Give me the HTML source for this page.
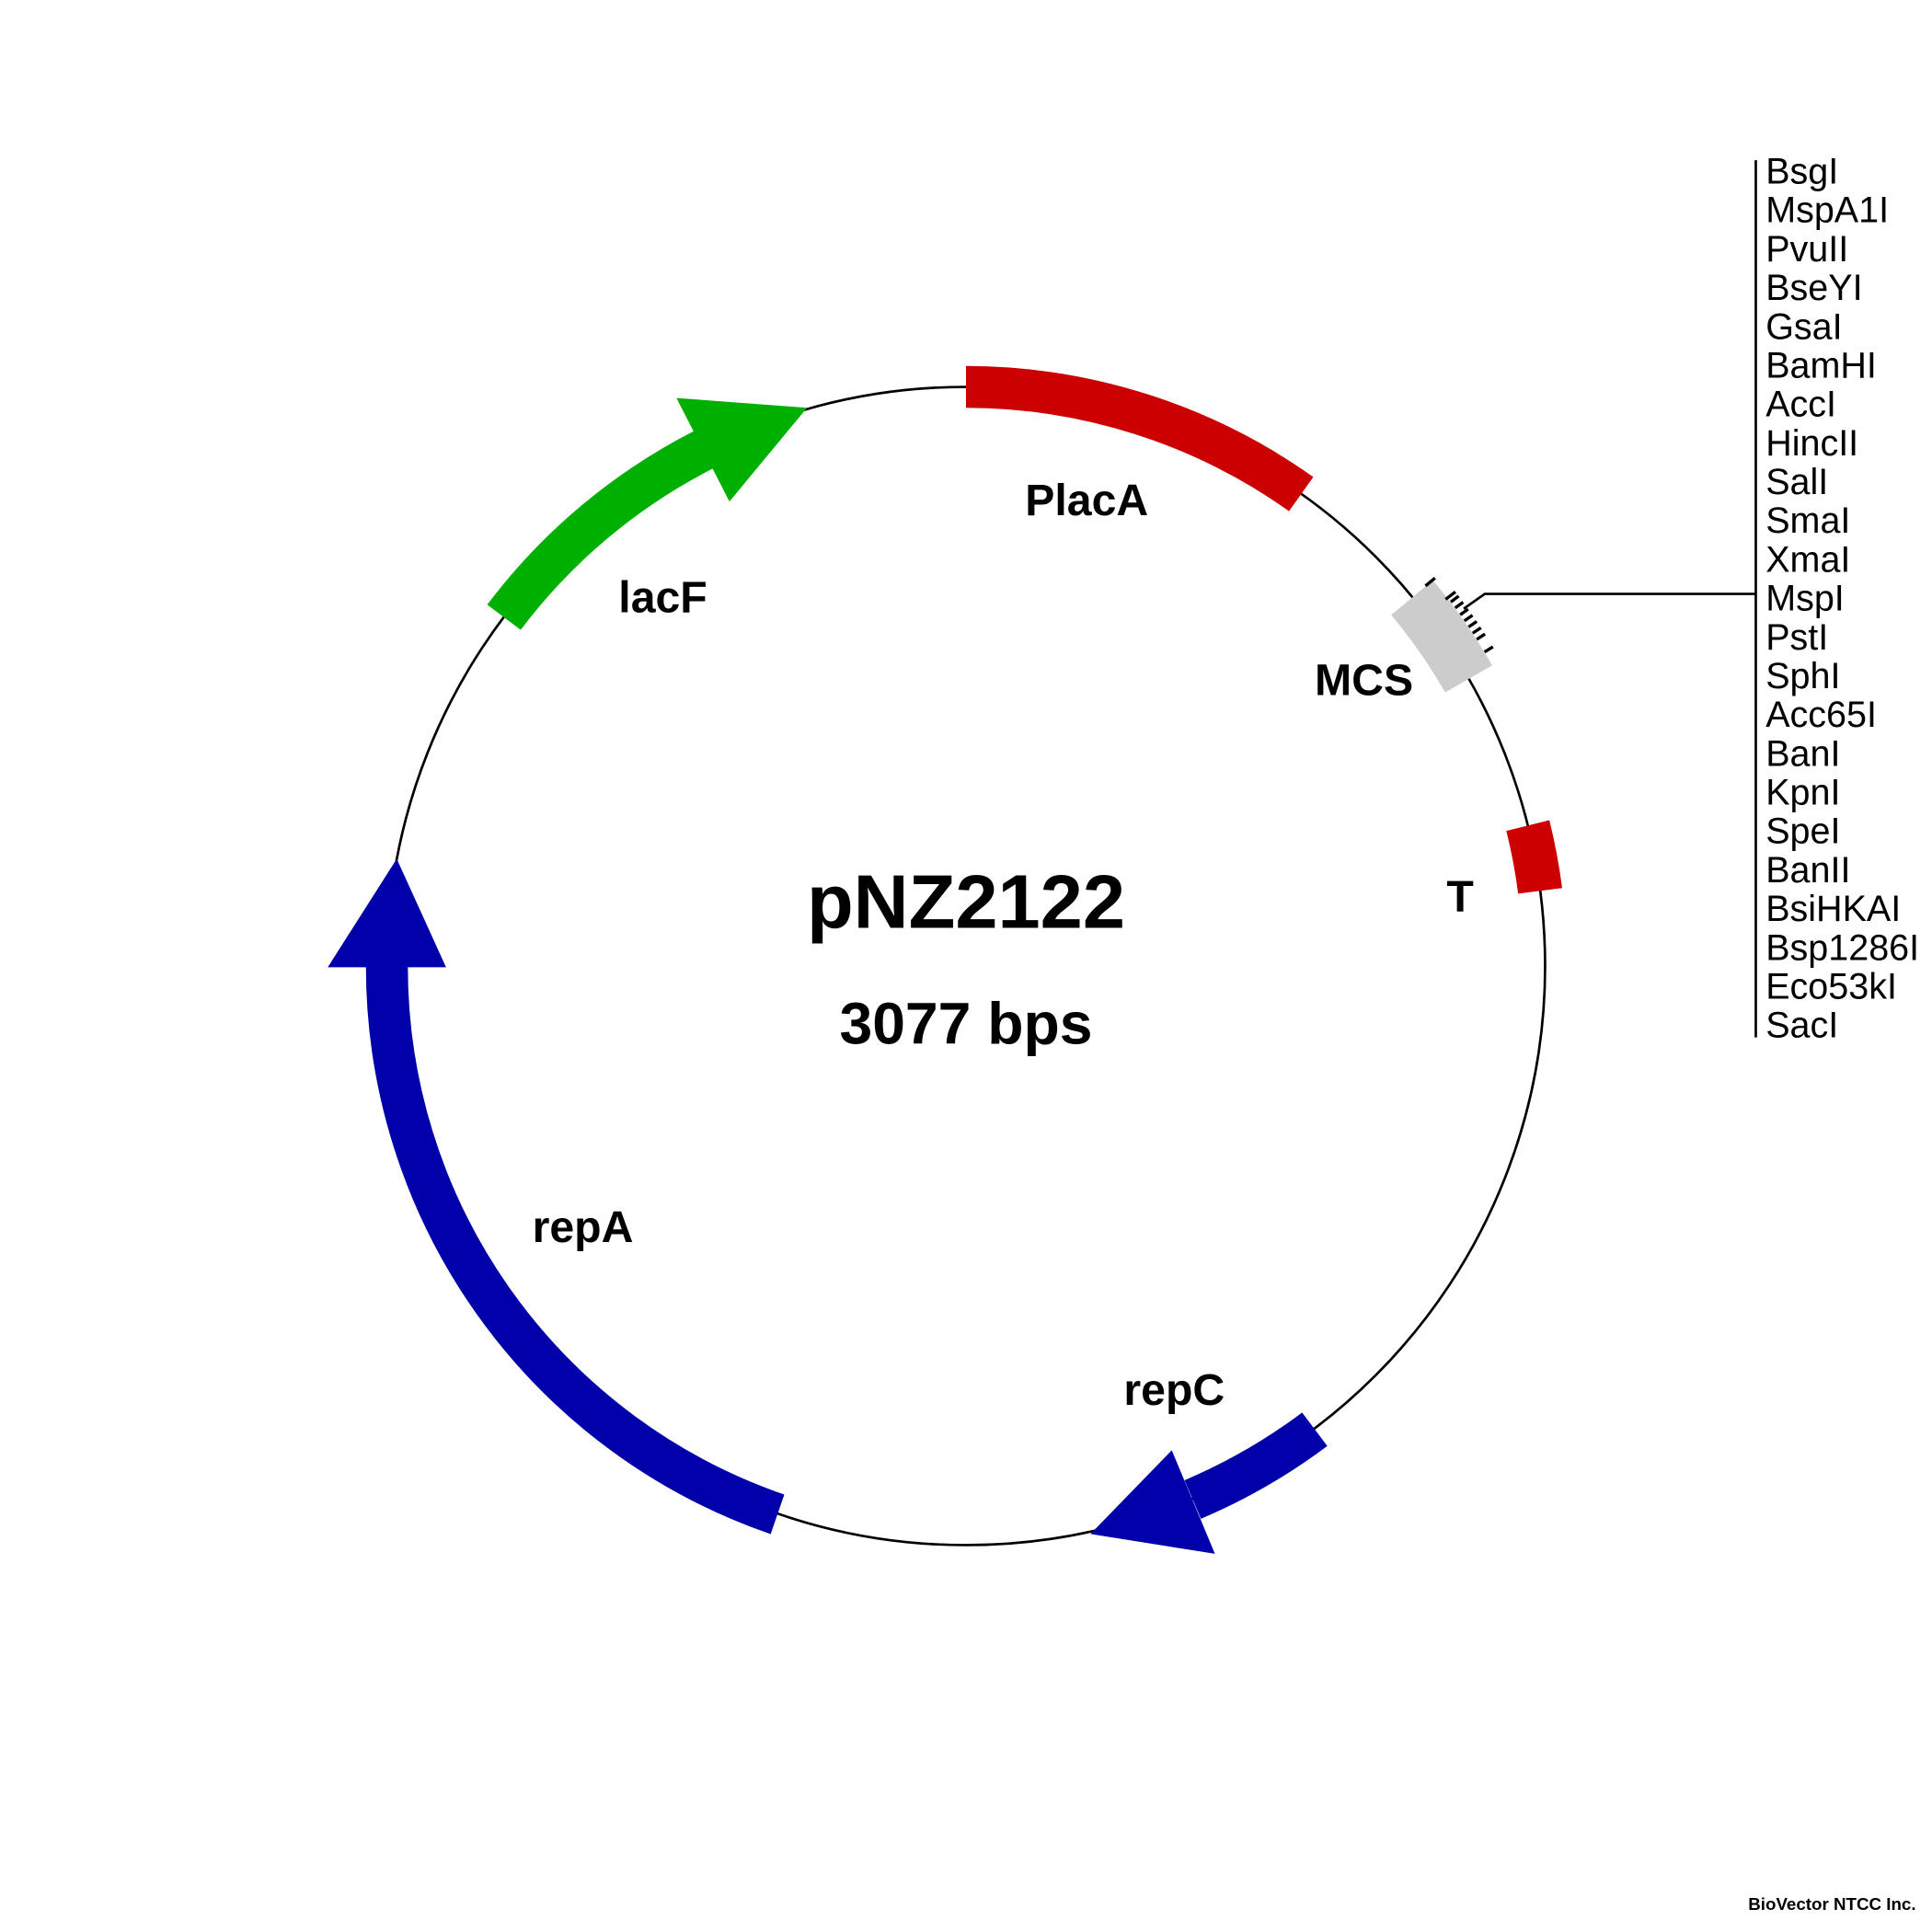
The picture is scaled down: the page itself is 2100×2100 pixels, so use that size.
<!DOCTYPE html>
<html><head><meta charset="utf-8"><style>
html,body{margin:0;padding:0;background:#fff;}
svg{display:block;}
text{font-family:"Liberation Sans",Arial,sans-serif;}
</style></head><body>
<svg width="2100" height="2100" viewBox="0 0 1568 1568" xmlns="http://www.w3.org/2000/svg">
<rect width="1568" height="1568" fill="#fff"/>
<circle cx="784" cy="784" r="470" fill="none" stroke="#000" stroke-width="2"/>
<path d="M784 314 A470 470 0 0 1 1056 401" fill="none" stroke="#cc0000" stroke-width="34"/>
<path d="M409 501 A470 470 0 0 1 571 365" fill="none" stroke="#00b000" stroke-width="34"/>
<polygon points="592,407 549,323 655,331" fill="#00b000"/>
<path d="M1146 485 A470 470 0 0 1 1192 551" fill="none" stroke="#cccccc" stroke-width="44"/>
<g stroke="#000" stroke-width="2.5">
<line x1="784" y1="290" x2="784" y2="300" transform="rotate(50.4 784 784)"/>
<line x1="784" y1="284" x2="784" y2="294" transform="rotate(52.6 784 784)"/>
<line x1="784" y1="284" x2="784" y2="292" transform="rotate(53.1 784 784)"/>
<line x1="784" y1="284" x2="784" y2="292" transform="rotate(53.8 784 784)"/>
<line x1="784" y1="284" x2="784" y2="292" transform="rotate(54.6 784 784)"/>
<line x1="784" y1="284" x2="784" y2="292" transform="rotate(55.3 784 784)"/>
<line x1="784" y1="284" x2="784" y2="292" transform="rotate(56.0 784 784)"/>
<line x1="784" y1="284" x2="784" y2="292" transform="rotate(56.7 784 784)"/>
<line x1="784" y1="284" x2="784" y2="292" transform="rotate(57.4 784 784)"/>
<line x1="784" y1="284" x2="784" y2="292" transform="rotate(58.8 784 784)"/>
</g>
<polyline points="1425,482 1205,482 1188,494" fill="none" stroke="#000" stroke-width="2"/>
<line x1="1425" y1="130" x2="1425" y2="842" stroke="#000" stroke-width="2"/>
<path d="M1240 670 A470 470 0 0 1 1250 723" fill="none" stroke="#cc0000" stroke-width="36"/>
<path d="M1067 1160 A470 470 0 0 1 968 1217" fill="none" stroke="#0000aa" stroke-width="34"/>
<polygon points="951,1177 986,1261 885,1245" fill="#0000aa"/>
<path d="M631 1229 A470 470 0 0 1 314 784" fill="none" stroke="#0000aa" stroke-width="34"/>
<polygon points="266,785 362,785 322,697" fill="#0000aa"/>
<g font-weight="bold" font-size="36" text-anchor="middle" fill="#000">
<text x="882" y="418">PlacA</text>
<text x="538" y="497">lacF</text>
<text x="1107" y="564">MCS</text>
<text x="1185" y="740">T</text>
<text x="953" y="1140">repC</text>
<text x="473" y="1008">repA</text>
<text x="784" y="753" font-size="62">pNZ2122</text>
<text x="784" y="847" font-size="48">3077 bps</text>
</g>
<g font-size="29.5" fill="#000">
<text x="1433" y="149">BsgI</text>
<text x="1433" y="180.5">MspA1I</text>
<text x="1433" y="212">PvuII</text>
<text x="1433" y="243.5">BseYI</text>
<text x="1433" y="275">GsaI</text>
<text x="1433" y="306.5">BamHI</text>
<text x="1433" y="338">AccI</text>
<text x="1433" y="369.5">HincII</text>
<text x="1433" y="401">SalI</text>
<text x="1433" y="432.5">SmaI</text>
<text x="1433" y="464">XmaI</text>
<text x="1433" y="495.5">MspI</text>
<text x="1433" y="527">PstI</text>
<text x="1433" y="558.5">SphI</text>
<text x="1433" y="590">Acc65I</text>
<text x="1433" y="621.5">BanI</text>
<text x="1433" y="653">KpnI</text>
<text x="1433" y="684.5">SpeI</text>
<text x="1433" y="716">BanII</text>
<text x="1433" y="747.5">BsiHKAI</text>
<text x="1433" y="779">Bsp1286I</text>
<text x="1433" y="810.5">Eco53kI</text>
<text x="1433" y="842">SacI</text>
</g>
<text x="1555" y="1550" font-size="14" font-weight="bold" text-anchor="end">BioVector NTCC Inc.</text>
</svg>
</body></html>
